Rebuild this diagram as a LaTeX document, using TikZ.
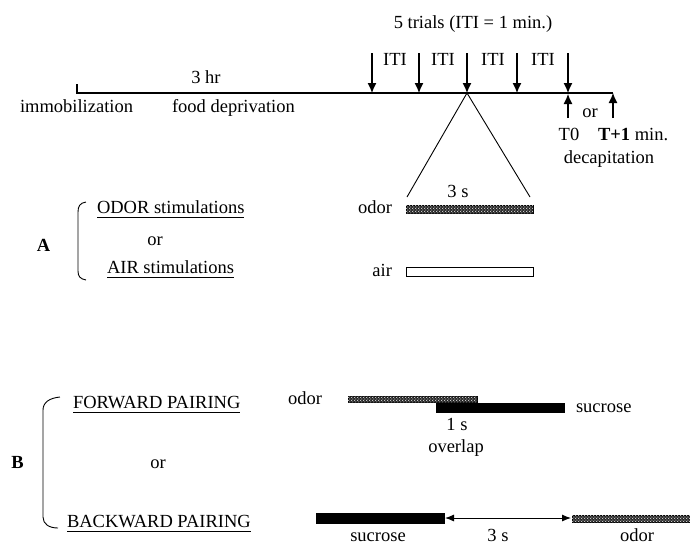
\documentclass[tikz,border=0pt]{standalone}
\usepackage{fontspec}
\setmainfont{Liberation Serif}
\usetikzlibrary{arrows.meta,patterns.meta}
\tikzdeclarepattern{
  name=odordots,
  type=uncolored,
  bounding box={(0pt,0pt) and (3.2pt,3.2pt)},
  tile size={(3.2pt,3.2pt)},
  code={
    \tikzset{x=1pt,y=1pt}
    \fill (0.8,0.8) circle (0.65);
    \fill (2.4,2.4) circle (0.65);
  }
}
\begin{document}
\begin{tikzpicture}[x=1pt,y=-1pt,
  txt/.style={inner sep=0pt, outer sep=0pt, font=\fontsize{18.5}{22}\selectfont},
  lbl/.style={txt, anchor=base},
  lblw/.style={txt, anchor=base west},
  lble/.style={txt, anchor=base east},
  ln/.style={line width=1.1pt},
  thin/.style={line width=0.9pt},
  uline/.style={line width=0.9pt},
  darr/.style={line width=1.1pt, -{Latex[length=10pt,width=9pt]}},
  dblarr/.style={line width=0.9pt, {Latex[length=9pt,width=7pt]}-{Latex[length=9pt,width=7pt]}, shorten <=1pt, shorten >=1pt},
  barbox/.style={draw, line width=0.8pt, inner sep=0pt, outer sep=0pt},
  odorbar/.style={barbox, fill=black!85, postaction={pattern=odordots, pattern color=white}},
  airbar/.style={barbox, fill=white},
  sucbar/.style={barbox, fill=black},
]
\useasboundingbox (0,0) rectangle (690,544);

% ---------- timeline ----------
\node[lbl] (title) at (473,28) {5 trials (ITI = 1 min.)};
\coordinate (tick) at (77,84);
\coordinate (tstart) at (77,93);
\coordinate (tend) at (613,93);
\draw[ln] (tick) -- (tstart) -- (tend);

\coordinate (a1t) at (372,53); \coordinate (a1) at (372,93);
\coordinate (a2t) at (419,53); \coordinate (a2) at (419,93);
\coordinate (a3t) at (467,53); \coordinate (a3) at (467,93);
\coordinate (a4t) at (517,53); \coordinate (a4) at (517,93);
\coordinate (a5t) at (568,53); \coordinate (a5) at (568,93);
\foreach \i in {1,...,5} \draw[darr] (a\i t) -- (a\i);

\node[lbl] (iti1) at (395,65) {ITI};
\node[lbl] (iti2) at (443,65) {ITI};
\node[lbl] (iti3) at (493,65) {ITI};
\node[lbl] (iti4) at (543,65) {ITI};

\node[lbl] (hr) at (206,83) {3 hr};
\node[lblw] (immob) at (20,112) {immobilization};
\node[lblw] (food) at (172,112) {food deprivation};

\coordinate (u1b) at (568,118); \coordinate (u1) at (568,94);
\coordinate (u2b) at (613,118); \coordinate (u2) at (613,93);
\draw[darr] (u1b) -- (u1);
\draw[darr] (u2b) -- (u2);
\node[lbl] (or0) at (590,117) {or};
\node[lbl] (t0) at (569,140) {T0};
\node[lblw] (t1) at (598,140) {\textbf{T+1} min.};
\node[lbl] (decap) at (609,163) {decapitation};

% ---------- zoom triangle ----------
\coordinate (trL) at (407,197);
\coordinate (trR) at (530,197);
\draw[thin] (trL) -- (a3) -- (trR);
\node[lbl] (threes) at (458,197) {3 s};

% ---------- A ----------
\node[odorbar, minimum width=127pt, minimum height=8pt] (odA) at (469.5,209) {};
\node[airbar, minimum width=127pt, minimum height=9pt] (airA) at (469.5,271.5) {};
\node[lble] (odorAl) at (392,213) {odor};
\node[lble] (airAl) at (392,276) {air};

\node[txt, anchor=base, font=\fontsize{18.5}{22}\selectfont\bfseries] (A) at (43.5,251) {A};
\draw[thin] (86,202) .. controls (80,203) and (78,206) .. (78,212) -- (78,271) .. controls (78,276) and (80,279) .. (86,280);
\node[lblw] (odst) at (97,213) {ODOR stimulations};
\draw[uline] ([yshift=-4pt]odst.base west) -- ([yshift=-4pt]odst.base east);
\node[lbl] (orA) at (155,245) {or};
\node[lblw] (airst) at (107,273) {AIR stimulations};
\draw[uline] ([yshift=-4pt]airst.base west) -- ([yshift=-4pt]airst.base east);

% ---------- B ----------
\node[txt, anchor=base, font=\fontsize{18.5}{22}\selectfont\bfseries] (B) at (17.5,468) {B};
\draw[thin] (60,397) .. controls (50,398) and (43,402) .. (43,410) -- (43,517) .. controls (43,524) and (49,528) .. (58,528);
\node[lblw] (fwd) at (73,408) {FORWARD PAIRING};
\draw[uline] ([yshift=-4pt]fwd.base west) -- ([yshift=-4pt]fwd.base east);
\node[lbl] (orB) at (158,468) {or};
\node[lblw] (bwd) at (67,527) {BACKWARD PAIRING};
\draw[uline] ([yshift=-4pt]bwd.base west) -- ([yshift=-4pt]bwd.base east);

% forward pairing
\node[odorbar, minimum width=129pt, minimum height=6pt] (odF) at (412.5,399) {};
\node[sucbar, minimum width=128pt, minimum height=9pt] (sucF) at (500,407.5) {};
\node[lble] (odorFl) at (322,404) {odor};
\node[lblw] (sucFl) at (576,412) {sucrose};
\node[lbl] (ones) at (457,430) {1 s};
\node[lbl] (overlap) at (456,452) {overlap};

% backward pairing
\node[sucbar, minimum width=128pt, minimum height=10pt] (sucB) at (380,518) {};
\node[odorbar, minimum width=122pt, minimum height=7pt] (odB) at (633,518.5) {};
\draw[dblarr] (sucB.east) -- (sucB.east -| odB.west);
\node[lbl] (sucBl) at (378,541) {sucrose};
\node[lbl] (threesB) at (498,541) {3 s};
\node[lbl] (odorBl) at (637,541) {odor};
\end{tikzpicture}
\end{document}
